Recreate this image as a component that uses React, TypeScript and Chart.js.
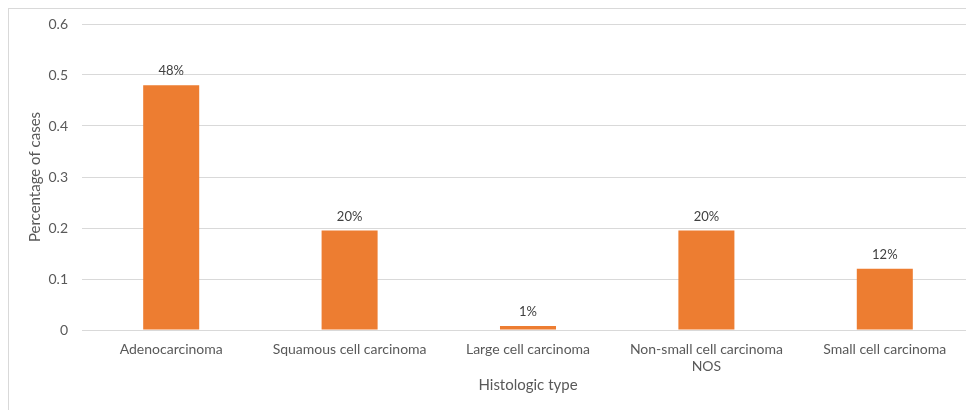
import React, { useEffect, useRef } from "react";
import { Chart, registerables } from "chart.js";

Chart.register(...registerables);

const categories: (string | string[])[] = [
  "Adenocarcinoma",
  "Squamous cell carcinoma",
  "Large cell carcinoma",
  ["Non-small cell carcinoma", "NOS"],
  "Small cell carcinoma",
];
const values = [0.48, 0.195, 0.008, 0.195, 0.12];
const valueLabels = ["48%", "20%", "1%", "20%", "12%"];
const yTicks = [0, 0.1, 0.2, 0.3, 0.4, 0.5, 0.6];

const FONT = "Lato, 'Open Sans', sans-serif";
const TEXT = "#595959";

const labelPlugin = {
  id: "barLabels",
  afterDatasetsDraw(chart: any) {
    const ctx = chart.ctx;
    const meta = chart.getDatasetMeta(0);
    ctx.save();
    ctx.font = `13px ${FONT}`;
    ctx.fillStyle = "#404040";
    ctx.textAlign = "center";
    ctx.textBaseline = "middle";
    meta.data.forEach((bar: any, i: number) => {
      ctx.fillText(valueLabels[i], bar.x, bar.y - 14);
    });
    ctx.restore();
  },
};

export default function App() {
  const ref = useRef<HTMLCanvasElement>(null);
  useEffect(() => {
    if (!ref.current) return;
    const chart = new Chart(ref.current, {
      type: "bar",
      data: {
        labels: categories,
        datasets: [
          {
            data: values,
            backgroundColor: "#ED7D31",
            categoryPercentage: 1,
            barPercentage: 0.314,
          },
        ],
      },
      options: {
        animation: false,
        responsive: false,
        maintainAspectRatio: false,
        layout: { padding: { top: 15, left: 0, right: 0, bottom: 0 } },
        plugins: { legend: { display: false }, tooltip: { enabled: false } },
        scales: {
          x: {
            grid: { display: false, drawTicks: false },
            border: { display: false },
            ticks: {
              color: TEXT,
              font: { family: FONT, size: 14 },
              padding: 11,
              maxRotation: 0,
              autoSkip: false,
            },
            title: {
              display: true,
              text: "Histologic type",
              color: TEXT,
              font: { family: FONT, size: 15 },
              padding: { top: 0, bottom: 16 },
            },
            afterFit: (s: any) => {
              s.height = 80;
              s.paddingLeft = 0;
              s.paddingRight = 0;
            },
          },
          y: {
            min: 0,
            max: 0.6,
            afterBuildTicks: (s: any) => {
              s.ticks = yTicks.map((v) => ({ value: v }));
            },
            grid: { color: "#d9d9d9", lineWidth: 1, drawTicks: false },
            border: { display: false },
            ticks: {
              color: TEXT,
              font: { family: FONT, size: 14 },
              padding: 14,
              callback: (v: any) => String(v),
            },
            title: {
              display: true,
              text: "Percentage of cases",
              color: TEXT,
              font: { family: FONT, size: 15 },
              padding: { top: 17, bottom: 0 },
            },
            afterFit: (s: any) => {
              s.width = 73;
              s.paddingTop = 0;
              s.paddingBottom = 0;
            },
          },
        },
      },
      plugins: [labelPlugin],
    });
    return () => chart.destroy();
  }, []);
  return (
    <div
      style={{
        width: 966,
        height: 402,
        boxSizing: "border-box",
        borderLeft: "1px solid #d9d9d9",
        borderTop: "1px solid #d9d9d9",
        background: "#fff",
      }}
    >
      <canvas ref={ref} width={965} height={401} style={{ display: "block" }} />
    </div>
  );
}
